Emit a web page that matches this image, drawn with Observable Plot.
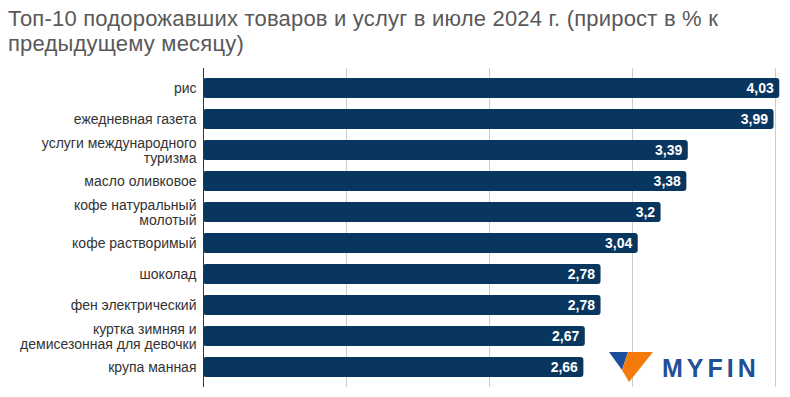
<!DOCTYPE html>
<html>
<head>
<meta charset="utf-8">
<script src="https://cdn.jsdelivr.net/npm/d3@7"></script>
<script src="https://cdn.jsdelivr.net/npm/@observablehq/plot@0.6"></script>
<style>
  html, body { margin: 0; padding: 0; background: #fff; }
  body { width: 790px; height: 397px; position: relative; overflow: hidden; font-family: "Liberation Sans", Arial, sans-serif; }
  #title { position: absolute; left: 8px; top: 6px; width: 782px; font-size: 22px; letter-spacing: 0.2px; line-height: 25px; color: #595959; }
  #chart { position: absolute; left: 0; top: 60px; }
  #logo { position: absolute; left: 605px; top: 348px; }
</style>
</head>
<body>
<div id="title">Топ-10 подорожавших товаров и услуг в июле 2024 г. (прирост в % к предыдущему месяцу)</div>
<div id="chart"></div>
<svg id="logo" width="165" height="40" viewBox="0 0 165 40">
  <polygon points="4,4 23,4 17,22" fill="#1b4f9c"/>
  <polygon points="23,4 48,4 24,34 17,22" fill="#f47a0c"/>
  <text x="57" y="28.5" font-family="Liberation Sans, Arial, sans-serif" font-weight="bold" font-size="25" letter-spacing="4" fill="#1f4f98">MYFIN</text>
</svg>
<script>
const categories = [
  "рис",
  "ежедневная газета",
  "услуги международного\nтуризма",
  "масло оливковое",
  "кофе натуральный\nмолотый",
  "кофе растворимый",
  "шоколад",
  "фен электрический",
  "куртка зимняя и\nдемисезонная для девочки",
  "крупа манная"
];
const values = [4.03, 3.99, 3.39, 3.38, 3.2, 3.04, 2.78, 2.78, 2.67, 2.66];
const gridTicks = [1, 2, 3, 4];

const data = categories.map((c, i) => ({ category: c, value: values[i] }));
const fmt = v => String(v).replace(".", ",");

const chart = Plot.plot({
  width: 790,
  height: 337,
  marginTop: 8,
  marginBottom: 10,
  marginLeft: 203,
  marginRight: 15,
  style: { fontFamily: "Liberation Sans, Arial, sans-serif", background: "transparent" },
  x: { domain: [0, 4], axis: null },
  y: { domain: categories, paddingInner: 0.35, paddingOuter: 0.2, label: null },
  marks: [
    Plot.ruleX(gridTicks, { stroke: "#cccccc", strokeWidth: 1, strokeOpacity: 1 }),
    Plot.barX(data, { x: "value", y: "category", fill: "#08365f", rx: 3 }),
    Plot.ruleX([0], { stroke: "#333333", strokeWidth: 1 }),
    Plot.text(data, {
      x: "value", y: "category", text: d => fmt(d.value),
      textAnchor: "end", dx: -6, fill: "white", fontWeight: "bold", fontSize: 14
    }),
    Plot.axisY({ tickSize: 0, tickPadding: 7, fontSize: 14, color: "#333", lineHeight: 1.1, label: null })
  ]
});
document.getElementById("chart").appendChild(chart);
</script>
</body>
</html>
